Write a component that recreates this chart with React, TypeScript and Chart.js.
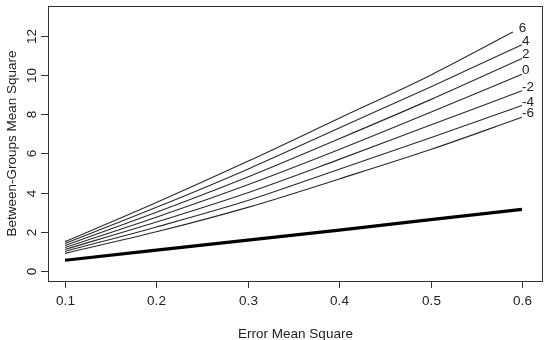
import React, { useEffect, useRef } from "react";
import { Chart, registerables } from "chart.js";
Chart.register(...registerables);

const xValues = [0.1, 0.2, 0.3, 0.4, 0.5, 0.6];
const xValuesTop = [0.1, 0.2, 0.3, 0.4, 0.5, 0.59];
const seriesLabels = ["6", "4", "2", "0", "-2", "-4", "-6"];
const s6 = [1.5, 3.5, 5.6, 7.8, 10.0, 12.2];
const s4 = [1.4, 3.25, 5.2, 7.3, 9.4, 11.55];
const s2 = [1.3, 3.0, 4.8, 6.75, 8.75, 10.85];
const s0 = [1.2, 2.75, 4.4, 6.2, 8.1, 10.05];
const sm2 = [1.1, 2.5, 4.0, 5.7, 7.45, 9.2];
const sm4 = [1.0, 2.25, 3.6, 5.2, 6.8, 8.45];
const sm6 = [0.9, 2.0, 3.25, 4.7, 6.2, 7.85];
const thickLine = [0.55, 1.07, 1.58, 2.09, 2.62, 3.15];
const xTicks = [0.1, 0.2, 0.3, 0.4, 0.5, 0.6];
const yTicks = [0, 2, 4, 6, 8, 10, 12];
const xTitle = "Error Mean Square";
const yTitle = "Between-Groups Mean Square";

const FONT = "13.5px 'Liberation Sans', Arial, sans-serif";

const rPlugin = {
  id: "rstyle",
  afterDraw(chart: any) {
    const ctx = chart.ctx;
    const a = chart.chartArea;
    const xs = chart.scales.x;
    const ys = chart.scales.y;
    ctx.save();
    ctx.strokeStyle = "#333";
    ctx.lineWidth = 1;
    ctx.strokeRect(Math.round(a.left) + 0.5, Math.round(a.top) + 0.5, Math.round(a.right - a.left) - 1, Math.round(a.bottom - a.top));
    ctx.fillStyle = "#222";
    ctx.font = FONT;
    // x ticks
    ctx.textAlign = "center";
    ctx.textBaseline = "middle";
    for (const t of xTicks) {
      const px = Math.round(xs.getPixelForValue(t)) + 0.5;
      ctx.beginPath();
      ctx.moveTo(px, a.bottom);
      ctx.lineTo(px, a.bottom + 7);
      ctx.stroke();
      ctx.fillText(String(t), px, a.bottom + 20);
    }
    // y ticks
    for (const t of yTicks) {
      const py = Math.round(ys.getPixelForValue(t)) + 0.5;
      ctx.beginPath();
      ctx.moveTo(a.left, py);
      ctx.lineTo(a.left - 7, py);
      ctx.stroke();
      ctx.save();
      ctx.translate(a.left - 16, py);
      ctx.rotate(-Math.PI / 2);
      ctx.fillText(String(t), 0, 0);
      ctx.restore();
    }
    // titles
    ctx.fillText(xTitle, (a.left + a.right) / 2, a.bottom + 53);
    ctx.save();
    ctx.translate(a.left - 36, (a.top + a.bottom) / 2);
    ctx.rotate(-Math.PI / 2);
    ctx.fillText(yTitle, 0, 0);
    ctx.restore();
    // series labels
    ctx.textAlign = "left";
    ctx.textBaseline = "alphabetic";
    seriesLabels.forEach((lab, i) => {
      const meta = chart.getDatasetMeta(i);
      const last = meta.data[meta.data.length - 1];
      const off = i === 0 ? 6 : 0;
      ctx.fillText(lab, last.x + off, last.y);
    });
    ctx.restore();
  },
};

function pts(xsArr: number[], ysArr: number[]) {
  return xsArr.map((x, i) => ({ x, y: ysArr[i] }));
}

export default function App() {
  const ref = useRef<HTMLCanvasElement>(null);
  useEffect(() => {
    const thin = [s6, s4, s2, s0, sm2, sm4, sm6];
    const datasets: any[] = thin.map((s, i) => ({
      label: seriesLabels[i],
      data: pts(i === 0 ? xValuesTop : xValues, s),
      borderColor: "#2a2a2a",
      borderWidth: 1.1,
      pointRadius: 0,
      showLine: true,
      fill: false,
      cubicInterpolationMode: "monotone",
    }));
    datasets.push({
      label: "thick",
      data: pts(xValues, thickLine),
      borderColor: "#000",
      borderWidth: 3.2,
      pointRadius: 0,
      showLine: true,
      fill: false,
    });
    const chart = new Chart(ref.current!, {
      type: "scatter",
      data: { datasets },
      options: {
        animation: false,
        responsive: false,
        layout: { padding: { left: 48, right: 1, top: 6, bottom: 59 } },
        plugins: { legend: { display: false }, tooltip: { enabled: false } },
        scales: {
          x: { type: "linear", display: false, min: 0.0814, max: 0.623 },
          y: { type: "linear", display: false, min: -0.51, max: 13.53 },
        },
      },
      plugins: [rPlugin],
    });
    return () => chart.destroy();
  }, []);
  return (
    <div style={{ position: "absolute", left: 0, top: 0, width: 544, height: 340, background: "#fff" }}>
      <canvas ref={ref} width={544} height={340} />
    </div>
  );
}
